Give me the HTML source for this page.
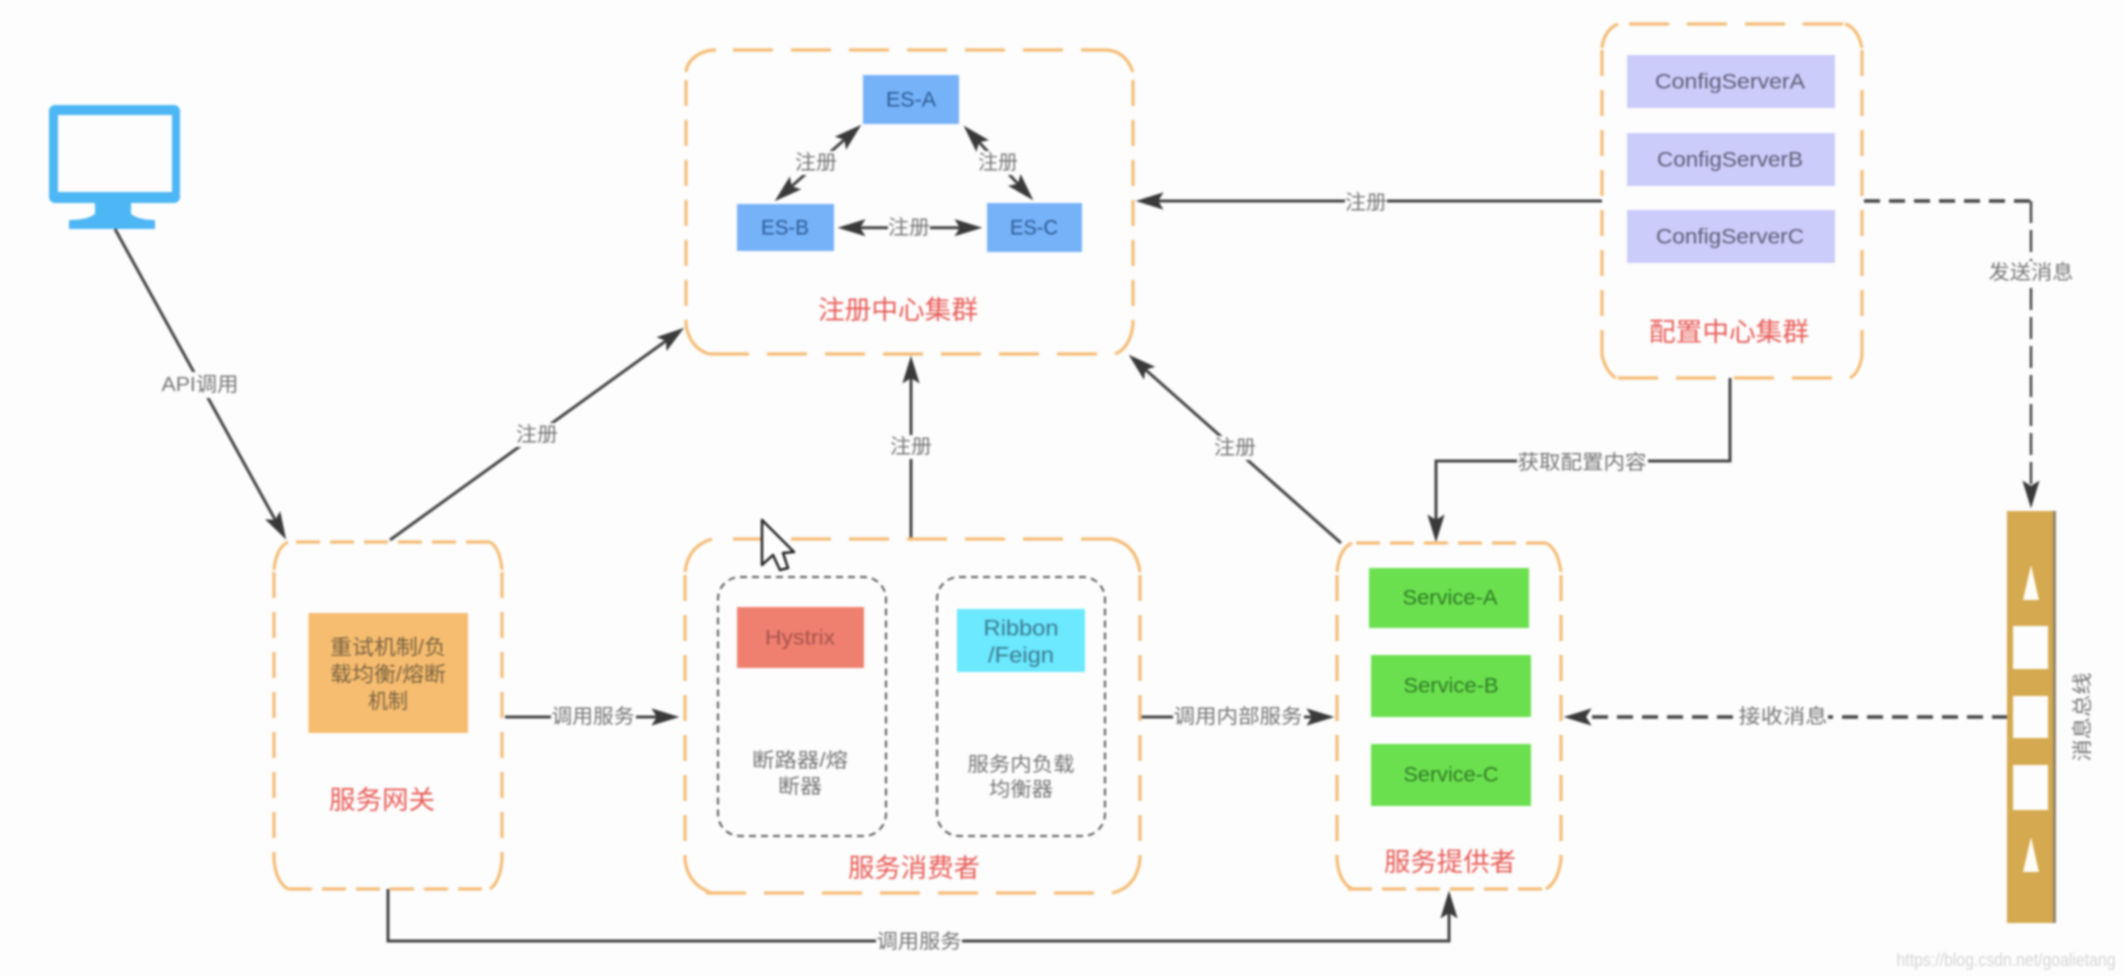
<!DOCTYPE html>
<html lang="zh">
<head>
<meta charset="utf-8">
<title>微服务架构图</title>
<style>
html,body{margin:0;padding:0;background:#fdfdfd;width:2124px;height:978px;overflow:hidden}
svg{display:block;filter:blur(1.1px)}
text{font-family:"Liberation Sans","Noto Sans CJK SC",sans-serif;text-anchor:middle;dominant-baseline:central}
.l{fill:#747474;font-size:20px}
.t{fill:#e85c57;font-size:26px}
.n{fill:#4f4f4f;font-size:21px}
.bg{fill:#fdfdfd}
.c{fill:none;stroke:#444;stroke-width:3}
.d{fill:none;stroke:#444;stroke-width:3.5;stroke-dasharray:16 9}
.o{fill:none;stroke:#f5bd78;stroke-width:3.2}
.oh{stroke-dasharray:40 18}
.os{stroke-dasharray:26 14}
.osh{stroke-dasharray:24 10}
.dot{fill:none;stroke:#5a5a5a;stroke-width:2;stroke-dasharray:7 5}
</style>
</head>
<body>
<svg xmlns="http://www.w3.org/2000/svg" width="2124" height="978" viewBox="0 0 2124 978">
<defs>
<marker id="a" markerUnits="userSpaceOnUse" markerWidth="28" markerHeight="18" viewBox="0 0 26 16" refX="20" refY="8" orient="auto-start-reverse">
<polygon points="0,0 26,8 0,16 5,8" fill="#3a3a3a"/>
</marker>
</defs>
<rect width="2124" height="978" fill="#fdfdfd"/>

<!-- monitor -->
<rect x="49" y="105" width="131" height="98" rx="6" fill="#4db6f4"/>
<rect x="58" y="115" width="114" height="77" fill="#fdfdfd"/>
<rect x="95" y="200" width="36" height="20" fill="#4db6f4"/>
<path d="M69,229 V220 Q90,220 97,212 H129 Q136,220 155,220 V229 Z" fill="#4db6f4"/>

<!-- connectors -->
<path class="c" d="M115,229 L283,534" marker-end="url(#a)"/>
<path class="c" d="M390,540 L679,331.5" marker-end="url(#a)"/>
<path class="c" d="M911,539 V362" marker-end="url(#a)"/>
<path class="c" d="M1341,543 L1133.5,359" marker-end="url(#a)"/>
<path class="c" d="M1602,201 H1142" marker-end="url(#a)"/>
<path class="c" d="M1730,378 V461 H1436 V536" marker-end="url(#a)"/>
<path class="c" d="M505,717 H673" marker-end="url(#a)"/>
<path class="c" d="M1140,717 H1328" marker-end="url(#a)"/>
<path class="c" d="M388,889 V941 H1449 V897" marker-end="url(#a)"/>
<path class="d" d="M1864,201 H2031"/>
<path class="c" style="stroke-dasharray:22 7;stroke-width:2.5" d="M2031,201 V502" marker-end="url(#a)"/>
<path class="d" d="M2008,717 H1570" marker-end="url(#a)"/>
<path class="c" d="M856.5,129 L779.5,197" marker-start="url(#a)" marker-end="url(#a)"/>
<path class="c" d="M968,130.4 L1029,195.6" marker-start="url(#a)" marker-end="url(#a)"/>
<path class="c" d="M844,227.7 H976" marker-start="url(#a)" marker-end="url(#a)"/>

<!-- registry cluster -->
<path class="o" d="M686,72 A30,24 0 0 1 716,50 M1105,50 Q1125,50 1133,72 M686,325 Q690,348 709,354 M1115,354 Q1130,348 1133,325"/>
<path class="o oh" d="M733,50 H1105 M709,354 H1115"/>
<path class="o os" d="M686,80 V325 M1133,80 V325"/>
<rect x="863" y="75" width="96" height="49" fill="#76b2f8"/>
<rect x="737" y="204" width="97" height="47" fill="#76b2f8"/>
<rect x="987" y="203" width="95" height="49" fill="#76b2f8"/>
<text x="911" y="100" fill="#2c5a94" font-size="21" textLength="50" lengthAdjust="spacingAndGlyphs">ES-A</text>
<text x="785" y="228" fill="#2c5a94" font-size="21" textLength="48" lengthAdjust="spacingAndGlyphs">ES-B</text>
<text x="1034" y="228" fill="#2c5a94" font-size="21" textLength="48" lengthAdjust="spacingAndGlyphs">ES-C</text>
<rect class="bg" x="795" y="151" width="42" height="24"/>
<text class="l" x="816" y="163" textLength="42" lengthAdjust="spacingAndGlyphs">注册</text>
<rect class="bg" x="978" y="151" width="40" height="24"/>
<text class="l" x="998" y="163" textLength="40" lengthAdjust="spacingAndGlyphs">注册</text>
<rect class="bg" x="888" y="216" width="42" height="24"/>
<text class="l" x="909" y="228" textLength="42" lengthAdjust="spacingAndGlyphs">注册</text>
<text class="t" x="898" y="310" textLength="160" lengthAdjust="spacingAndGlyphs">注册中心集群</text>

<!-- config cluster -->
<path class="o" d="M1602,48 Q1604,30 1618,24 M1845,24 Q1858,28 1862,48 M1602,355 Q1606,372 1616,378 M1850,378 Q1860,372 1862,355"/>
<path class="o oh" d="M1629,24 H1845 M1618,378 H1850"/>
<path class="o os" d="M1602,50 V355 M1862,50 V355"/>
<rect x="1627" y="55" width="208" height="53" fill="#ccccfa"/>
<rect x="1627" y="133" width="208" height="53" fill="#ccccfa"/>
<rect x="1627" y="210" width="208" height="53" fill="#ccccfa"/>
<text class="n" x="1730" y="82" style="fill:#5c5c76" textLength="150" lengthAdjust="spacingAndGlyphs">ConfigServerA</text>
<text class="n" x="1730" y="160" style="fill:#5c5c76" textLength="146" lengthAdjust="spacingAndGlyphs">ConfigServerB</text>
<text class="n" x="1730" y="237" style="fill:#5c5c76" textLength="148" lengthAdjust="spacingAndGlyphs">ConfigServerC</text>
<text class="t" x="1729" y="332" textLength="160" lengthAdjust="spacingAndGlyphs">配置中心集群</text>

<!-- gateway -->
<path class="o" d="M274,570 Q276,548 288,542 M490,542 Q500,548 502,570 M274,860 Q276,882 288,889 M490,889 Q500,882 502,860"/>
<path class="o osh" d="M296,542 H490 M288,889 H490"/>
<path class="o os" d="M274,572 V860 M502,572 V860"/>
<rect x="308.5" y="613" width="159.5" height="120" fill="#f6bd70"/>
<text class="n" x="388" y="648" style="fill:#7a6240" textLength="116" lengthAdjust="spacingAndGlyphs">重试机制/负</text>
<text class="n" x="388" y="675" style="fill:#7a6240" textLength="116" lengthAdjust="spacingAndGlyphs">载均衡/熔断</text>
<text class="n" x="388" y="702" style="fill:#7a6240" textLength="40" lengthAdjust="spacingAndGlyphs">机制</text>
<text class="t" x="382" y="800" textLength="106" lengthAdjust="spacingAndGlyphs">服务网关</text>

<!-- consumer -->
<path class="o" d="M685,572 Q688,546 712,539 M1112,539 Q1136,544 1140,572 M685,860 Q688,885 712,893 M1112,893 Q1136,888 1140,860"/>
<path class="o oh" d="M733,539 H1112 M706,893 H1112"/>
<path class="o os" d="M685,575 V860 M1140,575 V860"/>
<rect class="dot" x="718" y="577" width="168" height="259" rx="22"/>
<rect class="dot" x="937" y="577" width="168" height="259" rx="22"/>
<rect x="737" y="607" width="127" height="61" fill="#ef8070"/>
<rect x="957" y="609" width="128" height="63" fill="#6ce8ff"/>
<text x="800" y="638" fill="#a5524c" font-size="21" textLength="70" lengthAdjust="spacingAndGlyphs">Hystrix</text>
<text x="1021" y="628" fill="#3a7a8e" font-size="22" textLength="75" lengthAdjust="spacingAndGlyphs">Ribbon</text>
<text x="1021" y="655" fill="#3a7a8e" font-size="22" textLength="66" lengthAdjust="spacingAndGlyphs">/Feign</text>
<text class="l" x="800" y="761" textLength="96" lengthAdjust="spacingAndGlyphs">断路器/熔</text>
<text class="l" x="800" y="787" textLength="44" lengthAdjust="spacingAndGlyphs">断器</text>
<text class="l" x="1021" y="765" textLength="107" lengthAdjust="spacingAndGlyphs">服务内负载</text>
<text class="l" x="1021" y="790" textLength="64" lengthAdjust="spacingAndGlyphs">均衡器</text>
<text class="t" x="914" y="868" textLength="132" lengthAdjust="spacingAndGlyphs">服务消费者</text>

<!-- provider -->
<path class="o" d="M1337,572 Q1339,549 1352,543 M1546,543 Q1558,549 1561,572 M1337,860 Q1339,882 1352,889 M1546,889 Q1558,882 1561,860"/>
<path class="o osh" d="M1356,543 H1546 M1348,889 H1546"/>
<path class="o os" d="M1337,575 V860 M1561,575 V860"/>
<rect x="1369" y="568" width="160" height="60" fill="#6be04f"/>
<rect x="1371" y="655" width="160" height="62" fill="#6be04f"/>
<rect x="1371" y="744" width="160" height="62" fill="#6be04f"/>
<text x="1450" y="598" fill="#2f7a26" font-size="21" textLength="95" lengthAdjust="spacingAndGlyphs">Service-A</text>
<text x="1451" y="686" fill="#2f7a26" font-size="21" textLength="95" lengthAdjust="spacingAndGlyphs">Service-B</text>
<text x="1451" y="775" fill="#2f7a26" font-size="21" textLength="95" lengthAdjust="spacingAndGlyphs">Service-C</text>
<text class="t" x="1450" y="862" textLength="132" lengthAdjust="spacingAndGlyphs">服务提供者</text>

<!-- message bus -->
<rect x="2007" y="511" width="49" height="412" fill="#d4a94f"/>
<rect x="2053" y="511" width="3" height="412" fill="#8f8468"/>
<polygon points="2031,565 2039,600 2023,600" fill="#fffdf5"/>
<rect x="2013" y="626" width="35" height="43" fill="#fdfdfd"/>
<rect x="2013" y="696" width="35" height="42" fill="#fdfdfd"/>
<rect x="2013" y="765" width="35" height="45" fill="#fdfdfd"/>
<polygon points="2031,837 2039,872 2023,872" fill="#fffdf5"/>
<text class="l" x="2083" y="717" transform="rotate(-90 2083 717)" textLength="89" lengthAdjust="spacingAndGlyphs">消息总线</text>

<!-- edge labels -->
<rect class="bg" x="160" y="372" width="80" height="26"/>
<text class="l" x="200" y="385" textLength="77" lengthAdjust="spacingAndGlyphs">API调用</text>
<rect class="bg" x="516" y="423" width="42" height="24"/>
<text class="l" x="537" y="435" textLength="42" lengthAdjust="spacingAndGlyphs">注册</text>
<rect class="bg" x="890" y="435" width="42" height="24"/>
<text class="l" x="911" y="447" textLength="42" lengthAdjust="spacingAndGlyphs">注册</text>
<rect class="bg" x="1214" y="436" width="42" height="24"/>
<text class="l" x="1235" y="448" textLength="42" lengthAdjust="spacingAndGlyphs">注册</text>
<rect class="bg" x="1345" y="191" width="42" height="24"/>
<text class="l" x="1366" y="203" textLength="42" lengthAdjust="spacingAndGlyphs">注册</text>
<rect class="bg" x="1517" y="451" width="131" height="24"/>
<text class="l" x="1582" y="463" textLength="129" lengthAdjust="spacingAndGlyphs">获取配置内容</text>
<rect class="bg" x="1988" y="261" width="86" height="24"/>
<text class="l" x="2031" y="273" textLength="85" lengthAdjust="spacingAndGlyphs">发送消息</text>
<rect class="bg" x="551" y="705" width="85" height="24"/>
<text class="l" x="593" y="717" textLength="83" lengthAdjust="spacingAndGlyphs">调用服务</text>
<rect class="bg" x="1173" y="705" width="131" height="24"/>
<text class="l" x="1238" y="717" textLength="129" lengthAdjust="spacingAndGlyphs">调用内部服务</text>
<rect class="bg" x="1738" y="705" width="90" height="24"/>
<text class="l" x="1783" y="717" textLength="89" lengthAdjust="spacingAndGlyphs">接收消息</text>
<rect class="bg" x="876" y="930" width="86" height="24"/>
<text class="l" x="919" y="942" textLength="85" lengthAdjust="spacingAndGlyphs">调用服务</text>

<!-- cursor -->
<polygon points="762,520 762,565 773,555 780,570 788,568 783,553 794,552" fill="#fff" stroke="#222" stroke-width="2.5" stroke-linejoin="round"/>

<!-- watermark -->
<text x="2006" y="960" fill="#d5d5d5" font-size="18" textLength="219" lengthAdjust="spacingAndGlyphs">https://blog.csdn.net/goalietang</text>
</svg>
</body>
</html>
